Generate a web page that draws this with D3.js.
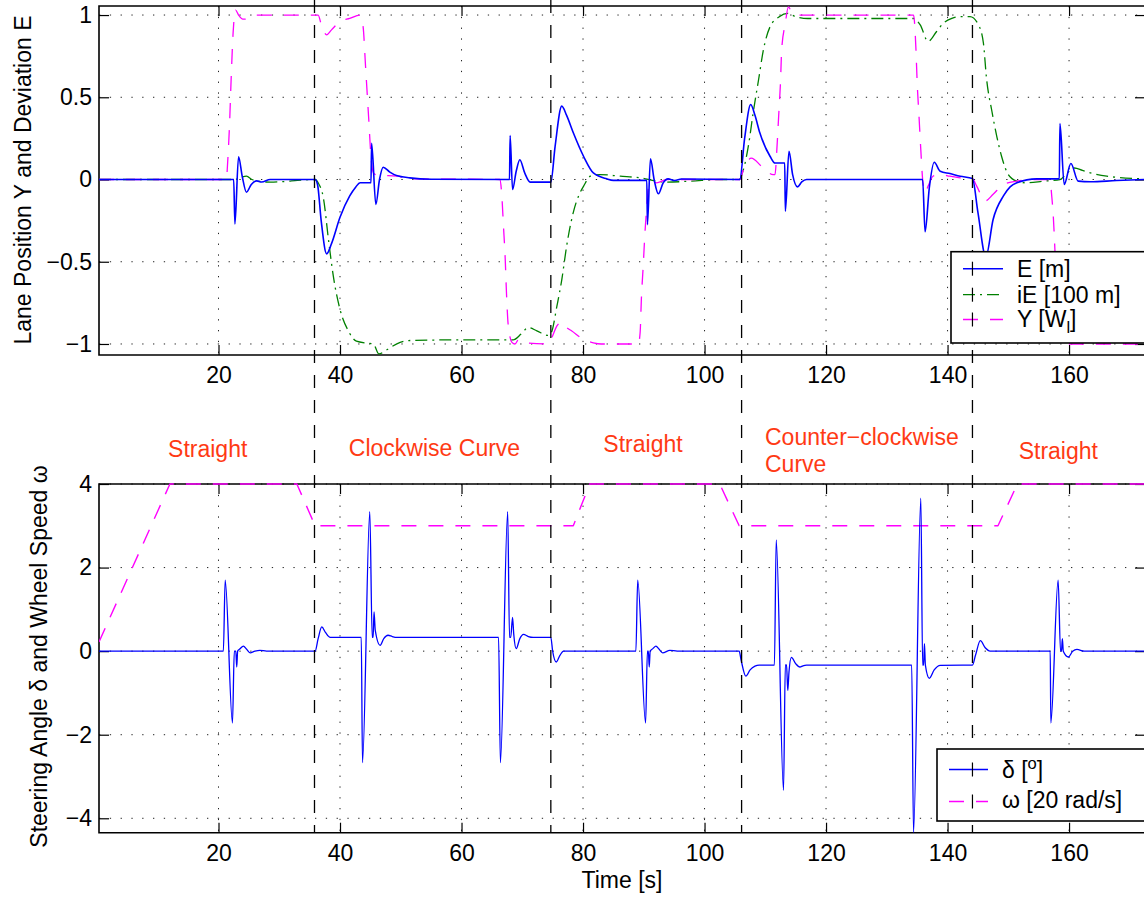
<!DOCTYPE html>
<html>
<head>
<meta charset="utf-8">
<script src="https://cdn.jsdelivr.net/npm/d3@7"></script>
<style>
  body { margin: 0; background: #fff; }
  svg { display: block; }
  text { font-family: "Liberation Sans", Arial, Helvetica, sans-serif; }
</style>
</head>
<body>
<svg id="chart" width="1144" height="899"></svg>
<script>
// ---------- data ----------
const xTicks = [20, 40, 60, 80, 100, 120, 140, 160];
const xTickLabels = ["20", "40", "60", "80", "100", "120", "140", "160"];
const topYTicks = [-1, -0.5, 0, 0.5, 1];
const topYTickLabels = ["\u22121", "\u22120.5", "0", "0.5", "1"];
const botYTicks = [-4, -2, 0, 2, 4];
const botYTickLabels = ["\u22124", "\u22122", "0", "2", "4"];

// road section boundaries [s] and names
const sectionBounds = [35.8, 74.7, 106.1, 144.1];
const sectionNames = [["Straight"], ["Clockwise Curve"], ["Straight"], ["Counter\u2212clockwise", "Curve"], ["Straight"]];

// lane deviation E [m]
const seriesE = [
  [0.33,0],[22.5,0],[22.7,-0.27],[23.3,0.138],[23.9,0.02],[24.6,-0.077],[25.4,-0.03],[26.3,-0.008],[27.1,-0.015],[28.5,0],
  [35.9,0],[36.3,-0.03],[36.9,-0.25],[37.8,-0.452],[38.6,-0.39],[40.0,-0.23],[41.6,-0.10],[42.6,-0.045],[43.3,-0.02],
  [45.1,-0.02],[45.2,0.22],[45.9,-0.152],[46.5,0.0],[47.1,0.075],[48.2,0.045],[49.3,0.024],[51.5,0.01],[55,0.002],
  [67.9,0],[68.0,0.267],[68.4,-0.061],[69.0,0.05],[69.6,0.12],[70.4,0.04],[71.3,-0.016],[74.7,-0.016],
  [75.4,0.2],[76.5,0.446],[77.3,0.39],[78.4,0.284],[80.1,0.14],[81.7,0.04],[83.9,0.004],[85,-0.005],
  [90.5,-0.005],[90.6,-0.274],[91.1,0.126],[91.7,0.0],[92.4,-0.087],[93.2,-0.02],[94.0,0.004],[95.1,-0.006],[96.2,0.003],
  [105.8,0],[106.6,0.25],[107.6,0.456],[108.3,0.39],[109.1,0.284],[110.8,0.14],[111.6,0.1],[113.2,0.1],
  [113.3,-0.193],[113.9,0.172],[114.5,0.03],[115.3,-0.045],[116.0,-0.015],[116.8,0],
  [135.9,0],[136.3,-0.318],[137.0,-0.05],[137.8,0.105],[138.8,0.05],[140.4,0.036],[142.1,0.02],[144.1,0.006],
  [145.0,-0.2],[146.3,-0.47],[147.5,-0.243],[149.2,-0.1],[150.3,-0.045],[151.4,-0.02],[154.7,0.004],[158.4,0.004],
  [158.5,0.34],[159.2,-0.03],[160.3,0.097],[161.5,-0.01],[163.5,-0.014],[167.8,-0.006],[172.5,0]
];

// integrated deviation iE [100 m]
const seriesIE = [
  [0.33,0],[22.7,0],[23.5,0.01],[24.6,0.02],[25.5,0.0],[26.5,-0.01],[28.5,-0.016],[31,-0.012],[33,-0.005],[35.9,0],
  [36.4,-0.02],[37.3,-0.12],[38.1,-0.365],[38.9,-0.588],[40.0,-0.79],[41.4,-0.922],[42.7,-0.983],[44.5,-0.995],
  [45.5,-1.0],[46.4,-1.06],[47.7,-1.035],[49.9,-0.99],[52,-0.978],[60,-0.975],[68.5,-0.975],
  [69.8,-0.94],[71,-0.9],[72.4,-0.92],[74.3,-0.948],[74.8,-0.93],[75.7,-0.77],[76.5,-0.61],[77.3,-0.405],
  [78.4,-0.2],[79.5,-0.08],[80.1,-0.04],[81.2,0.02],[82.8,0.03],[86.1,0.02],[89.4,0.01],[92.1,-0.01],[93.8,-0.016],
  [97.6,-0.01],[103.1,0],[105.7,0],[106.4,0.06],[107.3,0.223],[108.0,0.405],[108.9,0.608],[109.7,0.79],[110.8,0.93],
  [112.3,0.99],[113.7,1.01],[115,0.99],[117,0.979],[134.4,0.979],[135.5,0.94],[136.8,0.84],[138.2,0.90],[139.3,0.95],
  [140.7,0.98],[141.8,0.99],[143.7,0.99],[145.1,0.94],[145.9,0.83],[146.4,0.62],[147.3,0.415],[148.1,0.263],
  [148.9,0.14],[150.0,0.03],[151.4,-0.01],[153.0,-0.02],[155.8,-0.01],[158.5,0],[159.7,0.04],[160.9,0.07],
  [162.2,0.055],[163.5,0.04],[166.2,0.02],[172.5,0.004]
];

// lane position Y [W_l]
const seriesY = [
  [0.33,0],[21.3,0],[21.5,0.1],[21.8,0.32],[22.1,0.63],[22.4,0.89],[22.8,1.03],[23.3,1.0],[24.0,0.975],[24.4,0.975],[26,1.0],
  [36.4,1.0],[37.0,0.93],[37.8,0.88],[38.6,0.91],[40.0,0.96],[41.6,0.98],[43.3,1.0],[43.8,0.93],[44.2,0.69],[44.7,0.385],
  [45.1,0.14],[45.5,0.04],[46.6,0.02],[47.9,0.024],[49.5,0.02],[51.5,0.004],[66.3,0],[66.6,-0.08],[66.9,-0.28],
  [67.2,-0.49],[67.4,-0.69],[67.7,-0.89],[68.3,-0.99],[68.8,-1.0],[69.4,-0.973],[69.9,-0.98],[71,-0.995],[74.3,-1.0],
  [75.0,-0.95],[75.7,-0.89],[76.5,-0.867],[77.3,-0.9],[78.1,-0.92],[80.1,-0.973],[81.7,-0.993],[83,-1.0],[89.1,-1.0],
  [89.4,-0.93],[89.6,-0.73],[89.9,-0.53],[90.2,-0.32],[90.5,-0.16],[90.8,-0.04],[91.3,-0.01],[92.1,-0.02],[93.8,0],
  [105.8,0],[106.4,0.06],[107.7,0.13],[109.4,0.08],[111.3,0.03],[111.6,0.03],[111.9,0.18],[112.2,0.385],[112.5,0.59],
  [112.7,0.79],[113.3,0.95],[113.8,1.05],[114.3,1.02],[115.2,1.0],[134.4,1.0],[134.8,0.79],[135.0,0.59],[135.3,0.385],
  [135.6,0.18],[135.9,0.0],[136.3,-0.08],[136.8,-0.04],[137.6,0.02],[138.8,0.03],[140.4,0.02],[142.1,0.01],[144.1,0.004],
  [144.8,-0.04],[146.2,-0.13],[147.5,-0.09],[149.2,-0.03],[151.4,-0.01],[153.6,0],[156.9,0],[157.1,-0.08],[157.4,-0.22],
  [157.7,-0.45],[158.0,-0.7],[158.3,-0.9],[158.8,-1.0],[172.5,-1.0]
];

// steering angle delta [deg]
const seriesDelta = [
  [0.33,0],[20.8,0],[21.1,1.7],[22.3,-1.72],[22.6,0],[22.85,0],[23.0,-0.38],[23.15,0],[23.5,0.05],[24.1,0.12],[24.6,0.05],
  [25.2,-0.04],[26.0,0.0],[26.8,0.02],[27.9,0],[35.9,0],[36.4,0.3],[37.0,0.58],[37.6,0.45],[38.4,0.33],[43.5,0.33],
  [43.7,-2.67],[44.9,3.34],[45.3,0.33],[45.45,0.33],[45.6,0.94],[45.8,0.5],[46.6,0.14],[47.2,0.3],[47.9,0.38],[48.6,0.35],
  [49.3,0.33],[66.1,0.33],[66.4,-2.67],[67.6,3.34],[67.9,0.33],[68.1,0.33],[68.4,0.81],[68.6,0.4],[69.0,0.06],[69.6,0.3],
  [70.2,0.4],[71.0,0.35],[71.8,0.33],[74.7,0.33],[75.0,0.0],[75.6,-0.26],[76.2,-0.1],[76.8,0],[88.7,0],[89.0,1.7],
  [90.3,-1.72],[90.6,0],[90.75,0],[90.9,-0.38],[91.05,0],[91.5,0.06],[92.0,0.12],[92.5,0.05],[93.1,-0.04],[94.3,0.02],
  [95.5,0],[105.7,0],[106.0,-0.2],[106.8,-0.6],[107.5,-0.45],[108.3,-0.36],[109,-0.335],[111.5,-0.335],[111.8,2.66],
  [113.0,-3.33],[113.3,-0.33],[113.5,-0.33],[113.7,-0.94],[113.9,-0.5],[114.3,-0.15],[115.0,-0.3],[115.7,-0.38],
  [116.2,-0.35],[116.8,-0.335],[134.1,-0.335],[134.4,-4.34],[135.6,3.66],[135.9,-0.335],[136.05,-0.335],[136.2,0.18],
  [136.35,-0.335],[137.0,-0.65],[137.8,-0.45],[138.8,-0.34],[144.1,-0.335],[144.6,-0.1],[145.4,0.25],[146.2,0.08],
  [147,0],[156.9,0],[157.0,-1.72],[158.2,1.7],[158.6,0],[158.75,0],[158.9,0.3],[159.05,0],[159.9,-0.14],[160.6,0],
  [161.3,0.04],[162.5,0],[172.5,0]
];

// wheel speed omega [20 rad/s]
const seriesOmega = [
  [0.33,0.22],[12.0,4],[32.9,4],[35.9,3],[78.4,3],[81.1,4],[102.5,4],[105.7,3],[148.3,3],[151.5,4],[172.5,4]
];

// ---------- layout ----------
const svg = d3.select("#chart");
const X0 = 99, X1 = 1145;
const x = d3.scaleLinear().domain([0.33, 172.5]).range([X0, X1]);
const yTop = d3.scaleLinear().domain([-1.067, 1.055]).range([355, 6]);
const yBot = d3.scaleLinear().domain([-4.345, 4]).range([832.7, 484]);
const FONT = 23;
const TICK = 10;

svg.append("rect").attr("width", 1144).attr("height", 899).attr("fill", "#fff");

const defs = svg.append("defs");
function clip(id, y) {
  const [b, t] = y.range();
  defs.append("clipPath").attr("id", id)
    .append("rect").attr("x", X0).attr("y", t - 2).attr("width", X1 - X0).attr("height", b - t + 4);
}
clip("clipTop", yTop);
clip("clipBot", yBot);

function drawGrid(y, yTicks) {
  const [b, t] = y.range();
  const g = svg.append("g");
  g.append("g").selectAll("line").data(xTicks).join("line")
    .attr("x1", d => x(d)).attr("x2", d => x(d)).attr("y1", t).attr("y2", b)
    .attr("stroke", "#222").attr("stroke-width", 1).attr("stroke-dasharray", "1.3,9.5");
  g.append("g").selectAll("line").data(yTicks).join("line")
    .attr("x1", X0).attr("x2", X1).attr("y1", d => y(d)).attr("y2", d => y(d))
    .attr("stroke", "#222").attr("stroke-width", 1).attr("stroke-dasharray", "1.3,9.5");
}

function drawAxes(y, yTicks, yLabels) {
  const [b, t] = y.range();
  const g = svg.append("g");
  const style = s => s.attr("font-size", FONT).attr("font-family", null)
    .call(s => s.select(".domain").remove())
    .call(s => s.selectAll(".tick line").attr("stroke", "#000").attr("stroke-width", 1.2));
  g.append("g").attr("transform", `translate(0,${b})`)
    .call(d3.axisBottom(x).tickValues(xTicks).tickSize(-TICK).tickFormat((d, i) => xTickLabels[i]))
    .call(style)
    .call(s => s.selectAll("text").attr("y", 28).attr("dy", null).attr("fill", "#000"));
  g.append("g").attr("transform", `translate(0,${t})`)
    .call(d3.axisTop(x).tickValues(xTicks).tickSize(-TICK).tickFormat(""))
    .call(style);
  g.append("g").attr("transform", `translate(${X0},0)`)
    .call(d3.axisLeft(y).tickValues(yTicks).tickSize(-TICK).tickPadding(7).tickFormat((d, i) => yLabels[i]))
    .call(style)
    .call(s => s.selectAll("text").attr("fill", "#000"));
  g.append("g").attr("transform", `translate(${X1},0)`)
    .call(d3.axisRight(y).tickValues(yTicks).tickSize(-TICK).tickFormat(""))
    .call(style);
  g.append("path")
    .attr("d", `M${X1},${t}H${X0}V${b}H${X1}V${t}`)
    .attr("fill", "none").attr("stroke", "#000").attr("stroke-width", 1.6);
}

function drawSeries(data, y, clipId, color, width, dash, curve) {
  const gen = d3.line().x(d => x(d[0])).y(d => y(d[1])).curve(curve || d3.curveMonotoneX);
  svg.append("path").datum(data)
    .attr("clip-path", `url(#${clipId})`)
    .attr("d", gen)
    .attr("fill", "none").attr("stroke", color).attr("stroke-width", width)
    .attr("stroke-dasharray", dash).attr("stroke-linejoin", "round");
}

const BLUE = "#0000ff", GREEN = "#008000", MAGENTA = "#ff00ff";
const DASH_IE = "12,5,2,5", DASH_Y = "15,12", DASH_SEC = "13,12";

// ---------- top panel ----------
drawGrid(yTop, topYTicks);
drawAxes(yTop, topYTicks, topYTickLabels);
drawSeries(seriesIE, yTop, "clipTop", GREEN, 1.3, DASH_IE);
drawSeries(seriesY, yTop, "clipTop", MAGENTA, 1.3, DASH_Y);
drawSeries(seriesE, yTop, "clipTop", BLUE, 1.6, null);

// ---------- bottom panel ----------
drawGrid(yBot, botYTicks);
drawAxes(yBot, botYTicks, botYTickLabels);
drawSeries(seriesOmega, yBot, "clipBot", MAGENTA, 1.4, DASH_Y, d3.curveLinear);
drawSeries(seriesDelta, yBot, "clipBot", BLUE, 1.3, null);

// ---------- section boundaries ----------
svg.append("g").selectAll("line").data(sectionBounds).join("line")
  .attr("x1", d => x(d)).attr("x2", d => x(d)).attr("y1", 0).attr("y2", 833)
  .attr("stroke", "#000").attr("stroke-width", 1.3).attr("stroke-dasharray", DASH_SEC);

// section names
const RED = "#ff3a14";
const secLabelPos = [
  { x: 207.7, y: 456.7, anchor: "middle" },
  { x: 434.5, y: 456.0, anchor: "middle" },
  { x: 643.0, y: 452.3, anchor: "middle" },
  { x: 765.0, y: 445.0, anchor: "start" },
  { x: 1058.3, y: 459.3, anchor: "middle" }
];
sectionNames.forEach((lines, i) => {
  const p = secLabelPos[i];
  const t = svg.append("text").attr("x", p.x).attr("y", p.y)
    .attr("text-anchor", p.anchor).attr("font-size", FONT).attr("fill", RED);
  lines.forEach((s, j) => t.append("tspan").attr("x", p.x).attr("dy", j === 0 ? 0 : 26.7).text(s));
});

// ---------- axis titles ----------
svg.append("text").attr("transform", "translate(31,180) rotate(-90)")
  .attr("text-anchor", "middle").attr("font-size", FONT).text("Lane Position Y and Deviation E");
svg.append("text").attr("transform", "translate(47,656.5) rotate(-90)")
  .attr("text-anchor", "middle").attr("font-size", FONT).text("Steering Angle \u03b4 and Wheel Speed \u03c9");
svg.append("text").attr("x", 622).attr("y", 888)
  .attr("text-anchor", "middle").attr("font-size", FONT).text("Time [s]");

// ---------- legends ----------
function legend(box, items, sampleX, textX, crossX) {
  const g = svg.append("g");
  g.append("rect").attr("x", box.x).attr("y", box.y).attr("width", box.w).attr("height", box.h)
    .attr("fill", "#fff").attr("stroke", "#000").attr("stroke-width", 1.6);
  items.forEach(it => {
    g.append("line").attr("x1", sampleX[0]).attr("x2", sampleX[1]).attr("y1", it.ly).attr("y2", it.ly)
      .attr("stroke", it.color).attr("stroke-width", it.w).attr("stroke-dasharray", it.dash);
    // section boundary showing through at the sample rows
    g.append("line").attr("x1", crossX).attr("x2", crossX).attr("y1", it.ly - 7).attr("y2", it.ly + 7)
      .attr("stroke", "#000").attr("stroke-width", 1.2);
    const t = g.append("text").attr("x", textX).attr("y", it.by).attr("font-size", FONT);
    it.parts.forEach(p => {
      const s = t.append("tspan").text(p.t);
      if (p.sub) s.attr("font-size", FONT * 0.72).attr("dy", 6);
      if (p.sup) s.attr("font-size", FONT * 0.72).attr("dy", -9);
      if (p.back) s.attr("dy", p.back);
    });
  });
}

legend({ x: 951, y: 251.7, w: 195, h: 91.3 }, [
  { ly: 268.7, by: 276.7, color: BLUE, w: 1.6, dash: null, parts: [{ t: "E [m]" }] },
  { ly: 294.7, by: 302.7, color: GREEN, w: 1.3, dash: DASH_IE, parts: [{ t: "iE [100 m]" }] },
  { ly: 319.5, by: 326.7, color: MAGENTA, w: 1.3, dash: DASH_Y, parts: [{ t: "Y [W" }, { t: "l", sub: true }, { t: "]", back: -6 }] }
], [963, 1003], 1017, x(sectionBounds[3]));

legend({ x: 937, y: 749, w: 209, h: 72 }, [
  { ly: 769.5, by: 778, color: BLUE, w: 1.3, dash: null, parts: [{ t: "\u03b4 [" }, { t: "o", sup: true }, { t: "]", back: 9 }] },
  { ly: 801.5, by: 808, color: MAGENTA, w: 1.3, dash: DASH_Y, parts: [{ t: "\u03c9 [20 rad/s]" }] }
], [949, 988], 1002, x(sectionBounds[3]));
</script>
</body>
</html>
